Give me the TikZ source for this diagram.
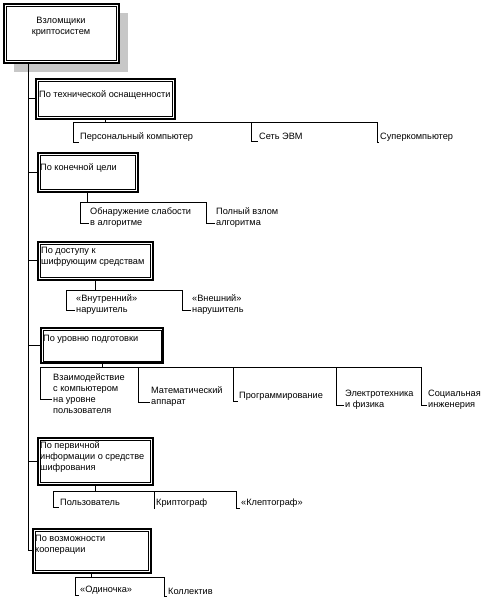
\documentclass[tikz,border=0pt]{standalone}
\usepackage{fontspec}
\setmainfont{Liberation Sans}
\usetikzlibrary{calc}

\tikzset{
  frame/.style={draw, line width=1.6pt, fill=white, anchor=north west, inner sep=0pt},
  caption/.style={anchor=base west, align=left, inner sep=0pt},
  leaf/.style={anchor=base west, align=left, inner xsep=1pt, inner ysep=0pt},
  wire/.style={line width=0.9pt},
}
\newcommand{\innerframe}[1]{\draw[line width=0.6pt] ([shift={(3pt,-3pt)}]#1.north west) rectangle ([shift={(-3pt,3pt)}]#1.south east);}

\begin{document}
\begin{tikzpicture}[x=1pt, y=-1pt, font=\fontsize{9.2}{11}\selectfont]
  \useasboundingbox (0,0) rectangle (484,600);

  %% ---- root ----
  \fill[black!22] (14,13) rectangle (128,72);
  \node[frame, minimum width=115pt, minimum height=59pt] (root) at (3,3) {};
  \innerframe{root}
  \node[align=center, inner sep=0pt] (rootlabel) at (61,26.5) {Взломщики\\криптосистем};

  %% ---- categories ----
  \node[frame, minimum width=139pt, minimum height=40pt] (b2) at (35,78) {};
  \node[frame, minimum width=100pt, minimum height=39pt] (b3) at (37,152) {};
  \node[frame, minimum width=115pt, minimum height=38pt] (b4) at (37,241) {};
  \node[frame, line width=2.4pt, minimum width=122pt, minimum height=35pt] (b5) at (40,327) {};
  \node[frame, minimum width=115pt, minimum height=47pt] (b6) at (37,437) {};
  \node[frame, minimum width=118pt, minimum height=44pt] (b7) at (32,528) {};
  \innerframe{b2}
  \innerframe{b3}
  \innerframe{b4}
  \innerframe{b5}
  \innerframe{b6}
  \innerframe{b7}

  %% captions (base = last line)
  \node[caption] (t2) at (39,97) {По технической оснащенности};
  \node[caption] (t3) at (40,170) {По конечной цели};
  \node[caption] (t4) at (41,264) {По доступу к\\шифрующим средствам};
  \node[caption] (t5) at (43,341) {По уровню подготовки};
  \node[caption] (t6) at (40,470) {По первичной\\информации о средстве\\шифрования};
  \node[caption] (t7) at (35,552) {По возможности\\кооперации};

  %% trunk
  \coordinate (trunk) at ([xshift=25pt]root.south west);
  \draw[wire] (trunk) |- (b7.west);
  \foreach \b in {b2,b3,b4,b5,b6}
    \draw[wire] (trunk |- \b.west) -- (\b.west);

  %% ---- technical equipment ----
  \node[leaf] (c21) at (79,139) {Персональный компьютер};
  \node[leaf] (c22) at (258,139) {Сеть ЭВМ};
  \node[leaf] (c23) at (379,139) {Суперкомпьютер};
  \coordinate (v21) at (73,122);
  \coordinate (v22) at (251,122);
  \coordinate (v23) at (377,122);
  \draw[wire] (b2.south) -- (b2.south |- v21);
  \draw[wire] (v21) -- (v23);
  \foreach \i in {1,2,3}
    \draw[wire] (v2\i) |- ([yshift=-6pt]c2\i.west);

  %% ---- final goal ----
  \node[leaf] (c31) at (89,225) {Обнаружение слабости\\в алгоритме};
  \node[leaf] (c32) at (215,225) {Полный взлом\\алгоритма};
  \coordinate (v31) at (80,202);
  \coordinate (v32) at (206,202);
  \draw[wire] (b3.south) -- (b3.south |- v31);
  \draw[wire] (v31) -- (v32);
  \foreach \i in {1,2}
    \draw[wire] (v3\i) |- ([yshift=-6pt]c3\i.west);

  %% ---- access ----
  \node[leaf] (c41) at (75,312) {«Внутренний»\\нарушитель};
  \node[leaf] (c42) at (191,312) {«Внешний»\\нарушитель};
  \coordinate (v41) at (66,290);
  \coordinate (v42) at (182,290);
  \draw[wire] (b4.south) -- (b4.south |- v41);
  \draw[wire] (v41) -- (v42);
  \foreach \i in {1,2}
    \draw[wire] (v4\i) |- ([yshift=-6pt]c4\i.west);

  %% ---- training ----
  \node[leaf] (c51) at (52,413) {Взаимодействие\\с компьютером\\на уровне\\пользователя};
  \node[leaf] (c52) at (150,404) {Математический\\аппарат};
  \node[leaf] (c53) at (238,398) {Программирование};
  \node[leaf] (c54) at (344,407) {Электротехника\\и физика};
  \node[leaf] (c55) at (427,407) {Социальная\\инженерия};
  \coordinate (v51) at (40,367);
  \coordinate (v52) at (138,367);
  \coordinate (v53) at (233,367);
  \coordinate (v54) at (336,367);
  \coordinate (v55) at (421,367);
  \draw[wire] (b5.south) -- (b5.south |- v51);
  \draw[wire] (v51) -- (v55);
  \foreach \i in {1,...,5}
    \draw[wire] (v5\i) |- ([yshift=-6pt]c5\i.west);

  %% ---- primary information ----
  \node[leaf] (c61) at (59,505) {Пользователь};
  \node[leaf] (c62) at (155,505) {Криптограф};
  \node[leaf] (c63) at (240,505) {«Клептограф»};
  \coordinate (v61) at (53,491);
  \coordinate (v62) at (154,491);
  \coordinate (v63) at (236,491);
  \draw[wire] (b6.south) -- (b6.south |- v61);
  \draw[wire] (v61) -- (v63);
  \foreach \i in {1,2,3}
    \draw[wire] (v6\i) |- ([yshift=-6pt]c6\i.west);

  %% ---- cooperation ----
  \node[leaf] (c71) at (79,592) {«Одиночка»};
  \node[leaf] (c72) at (167,594) {Коллектив};
  \coordinate (v71) at (75,577);
  \coordinate (v72) at (164,577);
  \draw[wire] (b7.south) -- (b7.south |- v71);
  \draw[wire] (v71) -- (v72);
  \foreach \i in {1,2}
    \draw[wire] (v7\i) |- ([yshift=-6pt]c7\i.west);

\end{tikzpicture}
\end{document}
